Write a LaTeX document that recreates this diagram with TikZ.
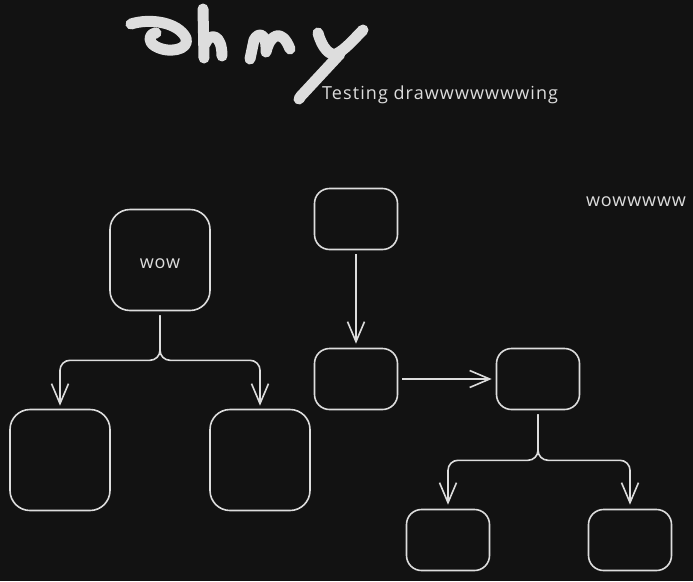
\documentclass[tikz,border=0pt]{standalone}
\usepackage{fontspec}
\setmainfont{Open Sans}
\usepackage{tikz}
\usetikzlibrary{arrows.meta}
\definecolor{boardColor}{HTML}{121212}
\definecolor{chalkColor}{HTML}{DDDDDD}

\begin{document}
\begin{tikzpicture}[x=1pt, y=-1pt,
    box/.style={draw=chalkColor, line width=1.6pt, rounded corners=15pt, inner sep=0pt},
    bigbox/.style={box, minimum width=100pt, minimum height=101pt, rounded corners=20pt},
    smallbox/.style={box, minimum width=83pt, minimum height=61pt},
    link/.style={draw=chalkColor, line width=1.6pt, rounded corners=10pt,
        -{Straight Barb[length=20pt, width=17pt, line width=1.6pt]}},
    scribble/.style={draw=chalkColor, line width=11pt, line cap=round, line join=round},
    note/.style={text=chalkColor, inner sep=0pt}]
    \fill[boardColor] (0,0) rectangle (693,581);
    \useasboundingbox (0,0) rectangle (693,581);

    % handwritten title
    \draw[scribble] (131,24) .. controls (150,18) and (178,22) .. (186,38)
        .. controls (190,50) and (168,54) .. (155,46) .. controls (148,42) and (148,34) .. (156,33);
    \draw[scribble] (203,9) -- (204,58);
    \draw[scribble] (205,44) .. controls (210,32) and (222,34) .. (222,56);
    \draw[scribble] (250,59) -- (254,40) .. controls (258,32) and (267,32) .. (266,52)
        .. controls (270,34) and (282,28) .. (290,49);
    \draw[scribble] (318,33) .. controls (322,48) and (330,56) .. (336,54)
        .. controls (345,50) and (355,38) .. (363,30);
    \draw[scribble] (340,54) -- (301,96) -- (299,99);
    \node[note, font=\fontsize{18}{20}\selectfont\addfontfeature{LetterSpace=6}, anchor=west]
        (subtitle) at (322,95) {Testing drawwwwwwwing};
    \node[note, font=\fontsize{18}{20}\selectfont\addfontfeature{LetterSpace=5}]
        (shout) at (636,202) {wowwwww};

    % left tree
    \node[bigbox] (wow) at (160,260) {};
    \node[note, font=\fontsize{18}{20}\selectfont\addfontfeature{LetterSpace=5}]
        (wowtext) at (160,264) {wow};
    \node[bigbox] (leftA) at (60,460) {};
    \node[bigbox] (leftB) at (260,460) {};
    \draw[link] ([yshift=-4pt]wow.south) -- ++(0,45) -| ([yshift=3pt]leftA.north);
    \draw[link] ([yshift=-4pt]wow.south) -- ++(0,45) -| ([yshift=3pt]leftB.north);

    % right chain
    \node[smallbox] (top) at (356,219) {};
    \node[smallbox] (mid) at (356,379) {};
    \node[smallbox] (right) at (538,379) {};
    \node[smallbox] (lowA) at (448,540) {};
    \node[smallbox] (lowB) at (630,540) {};
    \draw[link] ([yshift=-4pt]top.south) -- ([yshift=4pt]mid.north);
    \draw[link] ([xshift=4pt]mid.east) -- ([xshift=-4pt]right.west);
    \draw[link] ([yshift=-4pt]right.south) -- ++(0,46) -| ([yshift=4pt]lowA.north);
    \draw[link] ([yshift=-4pt]right.south) -- ++(0,46) -| ([yshift=4pt]lowB.north);
\end{tikzpicture}
\end{document}
